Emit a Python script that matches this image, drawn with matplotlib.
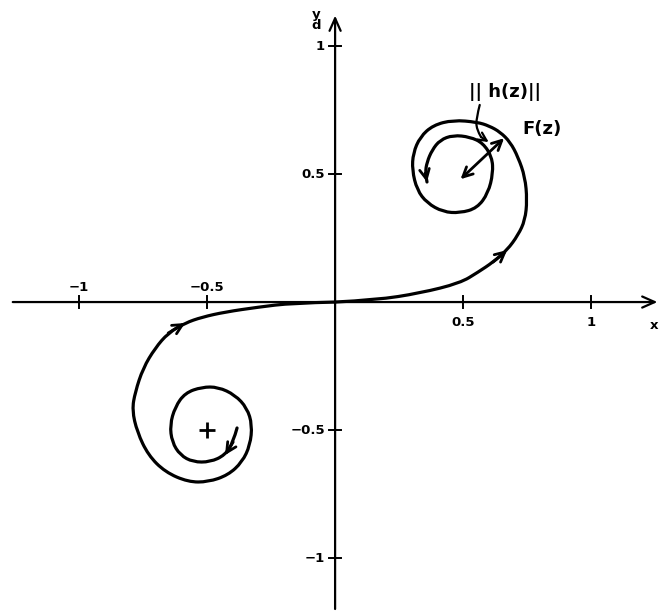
import matplotlib
matplotlib.use("Agg")
import matplotlib.pyplot as plt
from matplotlib.path import Path
from matplotlib.patches import PathPatch

# Cornu-type spiral, traced as two branches leaving the origin
upper_x = [0.000, 0.160, 0.332, 0.488, 0.559, 0.617, 0.672, 0.715, 0.742, 0.750, 0.742,
           0.715, 0.684, 0.645, 0.602, 0.555, 0.461, 0.383, 0.332, 0.305, 0.301, 0.320,
           0.359, 0.422, 0.488, 0.555, 0.598, 0.617, 0.613, 0.578, 0.527, 0.461, 0.410,
           0.379, 0.359, 0.352, 0.359]
upper_y = [0.000, 0.008, 0.035, 0.074, 0.117, 0.156, 0.203, 0.262, 0.320, 0.398, 0.488,
           0.566, 0.625, 0.664, 0.688, 0.703, 0.711, 0.691, 0.645, 0.582, 0.516, 0.438,
           0.387, 0.352, 0.348, 0.367, 0.426, 0.504, 0.566, 0.621, 0.645, 0.652, 0.633,
           0.594, 0.547, 0.504, 0.469]
lower_x = [0.000, -0.168, -0.301, -0.430, -0.520, -0.586, -0.652, -0.703, -0.750, -0.781,
           -0.793, -0.773, -0.730, -0.664, -0.574, -0.496, -0.418, -0.363, -0.332, -0.324,
           -0.344, -0.391, -0.457, -0.520, -0.586, -0.625, -0.645, -0.637, -0.605, -0.555,
           -0.488, -0.430, -0.398, -0.383]
lower_y = [0.000, -0.004, -0.020, -0.039, -0.059, -0.082, -0.121, -0.180, -0.258, -0.352,
           -0.422, -0.508, -0.598, -0.664, -0.703, -0.703, -0.676, -0.625, -0.559, -0.480,
           -0.414, -0.363, -0.332, -0.332, -0.355, -0.410, -0.480, -0.547, -0.598, -0.625,
           -0.625, -0.598, -0.547, -0.492]

x_ticks = [-1.0, -0.5, 0.5, 1.0]
x_tick_labels = ["−1", "−0.5", "0.5", "1"]
y_ticks = [1.0, 0.5, -0.5, -1.0]
y_tick_labels = ["1", "0.5", "−0.5", "−1"]

limit_center = (-0.5, -0.5)
radius_start = (0.49, 0.48)
radius_end = (0.66, 0.64)
leader_x = [0.565, 0.552, 0.552, 0.57, 0.60]
leader_y = [0.77, 0.72, 0.675, 0.645, 0.625]

INK = "black"
fig = plt.figure(figsize=(6.62, 6.11), dpi=100)
ax = fig.add_axes([0, 0, 1, 1])
ax.set_xlim(-1.309, 1.277)
ax.set_ylim(-1.207, 1.180)
ax.axis("off")

# coordinate axes drawn as arrows
ax.annotate("", xy=(1.27, 0), xytext=(-1.27, 0),
            arrowprops=dict(arrowstyle="->,head_length=0.9,head_width=0.4", lw=1.6, color=INK))
ax.annotate("", xy=(0, 1.13), xytext=(0, -1.21),
            arrowprops=dict(arrowstyle="->,head_length=0.9,head_width=0.4", lw=1.6, color=INK))

tick = 0.022
for t in x_ticks:
    ax.plot([t, t], [-tick, tick], color=INK, lw=1.4)
for t in y_ticks:
    ax.plot([-tick, tick], [t, t], color=INK, lw=1.4)

font = dict(fontweight="bold", color=INK, fontsize=9.5)
for t, lab in zip(x_ticks, x_tick_labels):
    yy = 0.055 if t < 0 else -0.08
    ax.text(t, yy, lab, ha="center", va="center", **font)
for t, lab in zip(y_ticks, y_tick_labels):
    ax.text(-0.04, t, lab, ha="right", va="center", **font)

ax.text(-0.075, 1.10, "y\nd", ha="center", va="center", linespacing=0.8, **font)
ax.text(1.245, -0.09, "x", ha="center", va="center", **font)


def smooth_curve(xs, ys, lw):
    """Draw a polyline as a quadratic B-spline path using the points as control points."""
    pts = list(zip(xs, ys))
    verts = [pts[0]]
    codes = [Path.MOVETO]
    for i in range(1, len(pts) - 2):
        mid = ((pts[i][0] + pts[i + 1][0]) / 2, (pts[i][1] + pts[i + 1][1]) / 2)
        verts += [pts[i], mid]
        codes += [Path.CURVE3, Path.CURVE3]
    verts += [pts[-2], pts[-1]]
    codes += [Path.CURVE3, Path.CURVE3]
    ax.add_patch(PathPatch(Path(verts, codes), fill=False, edgecolor=INK, lw=lw,
                           joinstyle="round", capstyle="round"))


# spiral branches
smooth_curve(upper_x, upper_y, 2.3)
smooth_curve(lower_x, lower_y, 2.3)

head = dict(arrowstyle="->,head_length=0.7,head_width=0.35", lw=2.0, color=INK,
            shrinkA=0, shrinkB=0)


def arrow_on(xs, ys, i, j):
    ax.annotate("", xy=(xs[j], ys[j]), xytext=(xs[i], ys[i]), arrowprops=head)


n_up, n_lo = len(upper_x), len(lower_x)
arrow_on(upper_x, upper_y, 5, 6)
arrow_on(upper_x, upper_y, n_up - 2, n_up - 1)
arrow_on(lower_x, lower_y, 6, 5)
arrow_on(lower_x, lower_y, n_lo - 2, n_lo - 3)

ax.plot(*limit_center, marker="+", ms=11, mew=2, color=INK)

ax.annotate("", xy=radius_end, xytext=radius_start,
            arrowprops=dict(arrowstyle="<->,head_length=0.7,head_width=0.35", lw=2.0,
                            color=INK, shrinkA=0, shrinkB=0))
smooth_curve(leader_x[:-1], leader_y[:-1], 1.6)
ax.annotate("", xy=(leader_x[-1], leader_y[-1]), xytext=(leader_x[-2], leader_y[-2]),
            arrowprops=dict(arrowstyle="->,head_length=0.6,head_width=0.3", lw=1.6,
                            color=INK, shrinkA=0, shrinkB=0))

ax.text(0.665, 0.82, "|| h(z)||", ha="center", va="center", fontsize=13, fontweight="bold")
ax.text(0.81, 0.675, "F(z)", ha="center", va="center", fontsize=13, fontweight="bold")

fig.savefig("out.png", dpi=100)
